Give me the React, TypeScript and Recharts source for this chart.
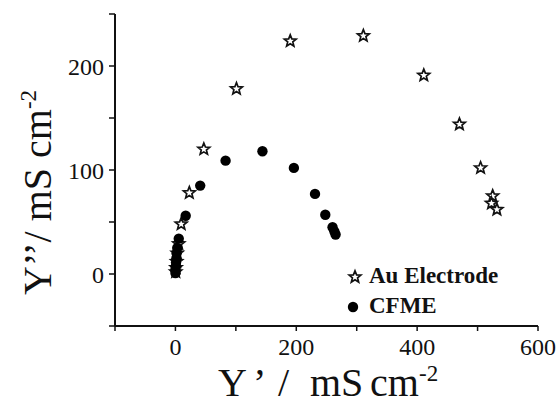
import React from 'react';
import { ScatterChart, Scatter, XAxis, YAxis } from 'recharts';

// Au Electrode (open stars)
const auX = [0.5, 1, 2, 3, 5.5, 9.5, 23, 47, 101, 190, 311, 411, 470, 505, 525, 523, 532];
const auY = [2, 6, 12, 20, 29, 48, 78, 120, 178, 224, 229, 191, 144, 102, 75, 68, 62];

// CFME (filled dots)
const cfmeX = [0, 0, 0.5, 1, 1.5, 2, 3, 5.5, 17, 41, 83, 144, 196, 231, 248, 260, 263, 265];
const cfmeY = [1, 4, 7, 11, 15, 20, 25, 34, 56, 85, 109, 118, 102, 77, 57, 45, 41, 38];

const xTicks = [-100, 0, 100, 200, 300, 400, 500, 600];
const yTicks = [-50, 0, 50, 100, 150, 200, 250];
const xTickLabels = [0, 200, 400, 600];
const yTickLabels = [0, 100, 200];

const seriesNames = ['Au Electrode', 'CFME'];

const auData = auX.map((x, i) => ({ x, y: auY[i] }));
const cfmeData = cfmeX.map((x, i) => ({ x, y: cfmeY[i] }));

const FONT = '"Liberation Serif", "Times New Roman", Times, serif';
const INK = '#111';

const starPoints = (cx: number, cy: number, ro: number, ri: number) => {
  const pts: string[] = [];
  for (let k = 0; k < 10; k++) {
    const r = k % 2 === 0 ? ro : ri;
    const a = -Math.PI / 2 + (k * Math.PI) / 5;
    pts.push(`${(cx + r * Math.cos(a)).toFixed(2)},${(cy + r * Math.sin(a)).toFixed(2)}`);
  }
  return pts.join(' ');
};

const StarShape = (props: any) => {
  const { cx, cy } = props;
  if (cx == null || cy == null) return null;
  return <polygon points={starPoints(cx, cy, 6.2, 2.7)} fill="#fff" stroke={INK} strokeWidth={1.7} />;
};

const DotShape = (props: any) => {
  const { cx, cy } = props;
  if (cx == null || cy == null) return null;
  return <circle cx={cx} cy={cy} r={5.2} fill="#000" />;
};

export default function App() {
  const axisLine = { stroke: INK, strokeWidth: 2 };
  const tickLine = { stroke: INK, strokeWidth: 1.5 };
  const tickStyle = { fontSize: 24, fill: INK, fontFamily: FONT, style: { fontFamily: FONT } };
  return (
    <div style={{ position: 'absolute', left: 0, top: 0, width: 559, height: 405, background: '#fff', overflow: 'hidden', fontFamily: FONT }}>
      <ScatterChart width={559} height={405} margin={{ top: 14, right: 21, bottom: 0, left: 0 }} style={{ fontFamily: FONT }}>
        <XAxis
          xAxisId="b"
          dataKey="x"
          type="number"
          domain={[-100, 600]}
          ticks={xTicks}
          interval={0}
          allowDataOverflow
          height={79}
          tickSize={5}
          tickMargin={7}
          axisLine={axisLine}
          tickLine={tickLine}
          tick={tickStyle}
          tickFormatter={(v: number) => (xTickLabels.includes(v) ? String(v) : '')}
        />
        <XAxis xAxisId="t" orientation="top" type="number" domain={[-100, 600]} height={0} tick={false} tickLine={false} axisLine={axisLine} />
        <YAxis
          yAxisId="l"
          dataKey="y"
          type="number"
          domain={[-50, 250]}
          ticks={yTicks}
          interval={0}
          allowDataOverflow
          width={115}
          tickSize={6}
          tickMargin={5}
          axisLine={axisLine}
          tickLine={tickLine}
          tick={tickStyle}
          tickFormatter={(v: number) => (yTickLabels.includes(v) ? String(v) : '')}
        />
        <YAxis yAxisId="r" orientation="right" type="number" domain={[-50, 250]} width={0} tick={false} tickLine={false} axisLine={axisLine} />
        <Scatter name={seriesNames[0]} data={auData} xAxisId="b" yAxisId="l" shape={StarShape} isAnimationActive={false} />
        <Scatter name={seriesNames[1]} data={cfmeData} xAxisId="b" yAxisId="l" shape={DotShape} isAnimationActive={false} />
      </ScatterChart>
      <svg width={559} height={405} style={{ position: 'absolute', left: 0, top: 0, pointerEvents: 'none', fontFamily: FONT }}>
        {/* legend */}
        <polygon points={starPoints(355, 277, 6.2, 2.7)} fill="#fff" stroke={INK} strokeWidth={1.7} />
        <text x={369} y={283} style={{ fontFamily: FONT, fontWeight: 'bold', fontSize: 23 }} fill={INK}>{seriesNames[0]}</text>
        <circle cx={353} cy={307} r={5.2} fill="#000" />
        <text x={369} y={313} style={{ fontFamily: FONT, fontWeight: 'bold', fontSize: 23 }} fill={INK}>{seriesNames[1]}</text>
        {/* x-axis title */}
        <text y={396} style={{ fontFamily: FONT, fontSize: 40 }} fill={INK}>
          <tspan x={218}>Y</tspan>
          <tspan x={253}>’</tspan>
          <tspan x={278}>/</tspan>
          <tspan x={310}>mS</tspan>
          <tspan x={370}>cm</tspan>
          <tspan x={419} dy={-15} style={{ fontSize: 23 }}>-2</tspan>
        </text>
        {/* y-axis title */}
        <text transform="rotate(-90)" x={-295} y={51} style={{ fontFamily: FONT, fontSize: 40 }} fill={INK}>
          Y’’/ mS cm<tspan dy={-15} style={{ fontSize: 23 }}>-2</tspan>
        </text>
      </svg>
    </div>
  );
}
